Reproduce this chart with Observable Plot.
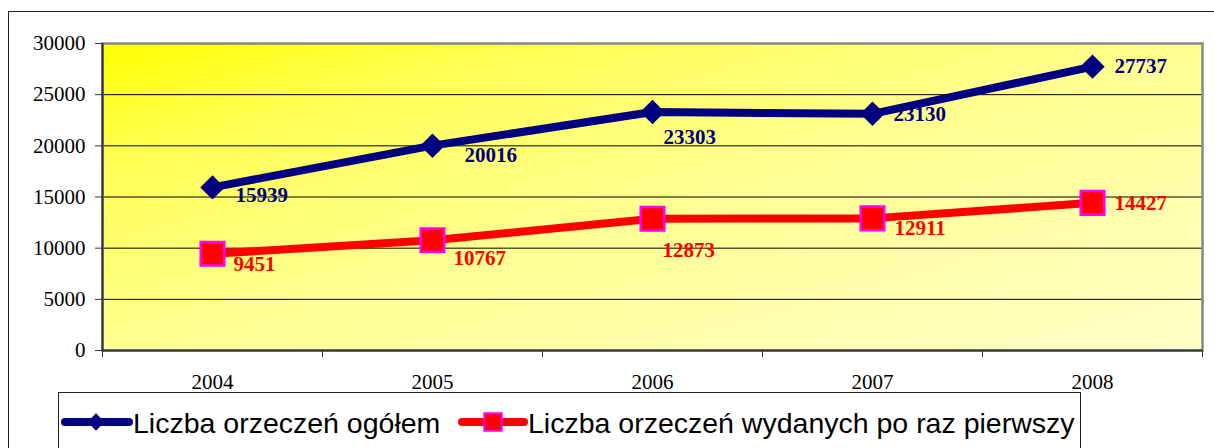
<!DOCTYPE html>
<html>
<head>
<meta charset="utf-8">
<script src="https://cdn.jsdelivr.net/npm/d3@7"></script>
<script src="https://cdn.jsdelivr.net/npm/@observablehq/plot@0.6"></script>
<style>
  html, body { margin: 0; padding: 0; background: #fff; }
  #wrap { position: relative; width: 1214px; height: 448px; overflow: hidden; background: #fff; }
  #outer { position: absolute; left: 8px; top: 11px; width: 1400px; height: 600px; border: 1px solid #222; }
  #chart { position: absolute; left: 0; top: 0; }
  #legend { position: absolute; left: 58px; top: 392px; width: 1021px; height: 100px; border: 1px solid #222; background: #fff; }
</style>
</head>
<body>
<div id="wrap">
  <div id="outer"></div>
  <div id="chart"></div>
  <div id="legend"></div>
</div>
<script>
// ---- data ----
const years = [2004, 2005, 2006, 2007, 2008];
const totalValues = [15939, 20016, 23303, 23130, 27737];
const firstTimeValues = [9451, 10767, 12873, 12911, 14427];
const seriesNames = ["Liczba orzeczeń ogółem", "Liczba orzeczeń wydanych po raz pierwszy"];
const yTicks = [0, 5000, 10000, 15000, 20000, 25000, 30000];
const xTickLabels = ["2004", "2005", "2006", "2007", "2008"];

// ---- styles ----
const navy = "#000080", red = "#ff0000", magenta = "#ff00ff";
const totalLabelOffsets = [[23, 8], [32, 10], [11, 25], [21, 0], [22, 0]];
const firstLabelOffsets = [[21, 10], [21, 18], [10, 31], [22, 10], [22, 0]];

const totalData = years.map((y, i) => ({year: y, value: totalValues[i]}));
const firstData = years.map((y, i) => ({year: y, value: firstTimeValues[i]}));
const boundaries = [years[0] - 0.5, ...years.map(y => y + 0.5)];

const labelMarks = [];
totalData.forEach((d, i) => labelMarks.push(Plot.text([d], {
  x: "year", y: "value", text: d => String(d.value), textAnchor: "start",
  dx: totalLabelOffsets[i][0], dy: totalLabelOffsets[i][1],
  fill: navy, fontWeight: "bold", fontSize: 21
})));
firstData.forEach((d, i) => labelMarks.push(Plot.text([d], {
  x: "year", y: "value", text: d => String(d.value), textAnchor: "start",
  dx: firstLabelOffsets[i][0], dy: firstLabelOffsets[i][1],
  fill: red, fontWeight: "bold", fontSize: 21
})));

const chart = Plot.plot({
  width: 1214, height: 448,
  marginLeft: 102, marginRight: 12, marginTop: 43, marginBottom: 98,
  style: {fontFamily: "'Liberation Serif', 'Times New Roman', serif", fontSize: "21px", background: "transparent", overflow: "visible"},
  x: {domain: [boundaries[0], boundaries[boundaries.length - 1]], label: null},
  y: {domain: [yTicks[0], yTicks[yTicks.length - 1]], label: null},
  marks: [
    Plot.frame({fill: "url(#bgGrad)", stroke: null}),
    Plot.ruleY(yTicks.slice(1, -1), {stroke: "#000", strokeWidth: 1}),
    Plot.frame({stroke: "#888", strokeWidth: 2.5}),
    Plot.ruleX([boundaries[0]], {stroke: "#333", strokeWidth: 2}),
    Plot.ruleY([yTicks[0]], {stroke: "#333", strokeWidth: 2}),
    Plot.axisY({ticks: yTicks, tickSize: 7, tickPadding: 10, tickFormat: d => String(d), stroke: "#333", fill: "#000", fontSize: 21, label: null}),
    Plot.axisX({ticks: boundaries, tickSize: 7, tickFormat: () => "", stroke: "#333", label: null}),
    Plot.axisX({ticks: years, tickSize: 0, tickPadding: 24, tickFormat: d => xTickLabels[years.indexOf(d)], fill: "#000", fontSize: 21, label: null}),
    Plot.line(totalData, {x: "year", y: "value", stroke: navy, strokeWidth: 8}),
    Plot.line(firstData, {x: "year", y: "value", stroke: red, strokeWidth: 8}),
    Plot.dot(totalData, {x: "year", y: "value", symbol: "diamond2", r: 11, fill: navy, stroke: null}),
    Plot.dot(firstData, {x: "year", y: "value", symbol: "square", r: 13.3, fill: red, stroke: magenta, strokeWidth: 2.5}),
    ...labelMarks
  ]
});

const svg = d3.select(chart);
const grad = svg.insert("defs", ":first-child").append("linearGradient")
  .attr("id", "bgGrad").attr("x1", 0).attr("y1", 0).attr("x2", 1).attr("y2", 1);
[[0, "#ffff00"], [0.2, "#ffff55"], [0.5, "#ffff90"], [1, "#ffffc8"]].forEach(([o, c]) =>
  grad.append("stop").attr("offset", o).attr("stop-color", c));

document.getElementById("chart").appendChild(chart);

// ---- legend ----
const lg = d3.select("#legend").append("svg").attr("width", 1021).attr("height", 100)
  .style("font-family", "'Liberation Sans', Arial, sans-serif").style("font-size", "28.5px");
const items = [
  {name: seriesNames[0], color: navy, x0: 6, x1: 70, cx: 37, sym: d3.symbolDiamond2, size: 190, stroke: null, tx: 74},
  {name: seriesNames[1], color: red, x0: 403, x1: 465, cx: 434, sym: d3.symbolSquare, size: 300, stroke: magenta, tx: 469}
];
items.forEach(it => {
  lg.append("line").attr("x1", it.x0).attr("x2", it.x1).attr("y1", 29).attr("y2", 29)
    .attr("stroke", it.color).attr("stroke-width", 8).attr("stroke-linecap", "round");
  lg.append("path").attr("d", d3.symbol(it.sym, it.size)()).attr("transform", `translate(${it.cx},29)`)
    .attr("fill", it.color).attr("stroke", it.stroke || "none").attr("stroke-width", 2);
  lg.append("text").attr("x", it.tx).attr("y", 39.5).attr("fill", "#000").text(it.name);
});
</script>
</body>
</html>
